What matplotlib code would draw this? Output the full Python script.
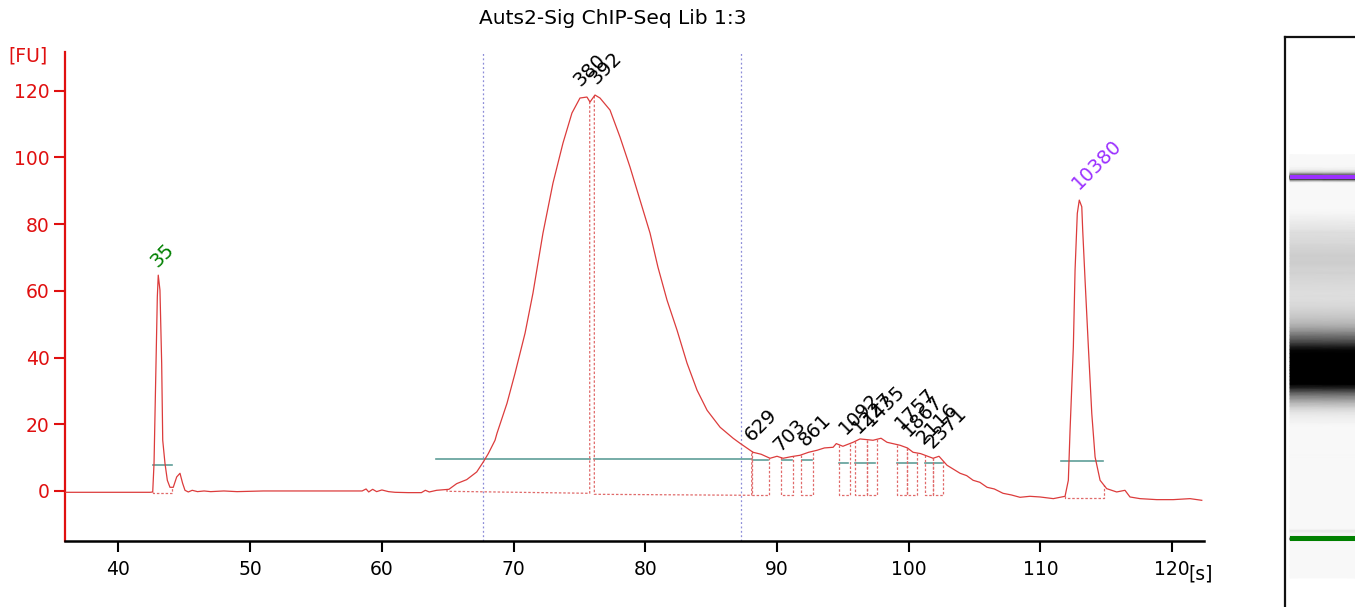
import numpy as np
import matplotlib
matplotlib.use("Agg")
import matplotlib.pyplot as plt
from matplotlib.colors import LinearSegmentedColormap

# electropherogram trace: time [s] and fluorescence [FU]
trace_t = [35.94, 38.0, 40.0, 42.40, 42.60, 42.70, 42.85, 42.95, 43.02, 43.15,
           43.28, 43.36, 43.53, 43.71, 43.91, 44.16, 44.42, 44.67, 44.87, 45.05,
           45.30, 45.6, 46.0, 46.5, 47.0, 48.0, 49.0, 51.0, 55.0, 58.5,
           58.8, 59.0, 59.3, 59.6, 60.0, 60.5, 61.0, 62.0, 63.0, 63.3,
           63.6, 64.16, 65.09, 65.68, 66.44, 67.20, 67.70, 68.08, 68.59, 68.74,
           69.50, 70.11, 70.87, 71.47, 72.23, 72.99, 73.75, 74.43, 75.04, 75.57,
           75.80, 76.18, 76.56, 77.32, 78.08, 78.84, 79.60, 80.36, 80.96, 81.65,
           82.41, 83.17, 83.93, 84.69, 85.68, 86.67, 87.19, 88.18, 88.8, 89.47,
           90.0, 90.46, 91.1, 91.75, 92.4, 93.04, 93.6, 94.26, 94.5, 95.0,
           95.78, 96.3, 97.29, 97.9, 98.35, 99.34, 99.9, 100.33, 100.9, 101.3,
           101.85, 102.3, 102.91, 103.4, 103.90, 104.4, 104.89, 105.4, 105.95, 106.5,
           107.16, 107.8, 108.45, 109.2, 109.97, 110.98, 111.87, 112.12, 112.25, 112.50,
           112.63, 112.80, 112.95, 113.14, 113.21, 113.39, 113.64, 113.90, 114.15, 114.53,
           115.03, 115.79, 116.42, 116.80, 117.56, 118.83, 120.09, 121.36, 122.25]
trace_fu = [-0.4, -0.4, -0.4, -0.4, -0.3, 8.3, 38.3, 58.2, 64.7, 60.2,
            38.3, 15.2, 8.3, 3.2, 1.1, 1.1, 4.2, 5.3, 2.3, 0.2,
            -0.3, 0.2, -0.2, 0.0, -0.2, 0.0, -0.2, 0.0, 0.0, 0.0,
            0.6, -0.3, 0.5, -0.2, 0.3, -0.2, -0.4, -0.5, -0.5, 0.2,
            -0.3, 0.2, 0.5, 2.2, 3.4, 5.7, 8.7, 11.2, 15.2, 17.3,
            26.3, 35.3, 47.3, 59.3, 77.3, 92.3, 104.3, 113.3, 117.8, 118.1,
            116.6, 118.7, 117.8, 114.2, 106.1, 97.1, 87.2, 77.3, 67.1, 57.2,
            48.2, 38.3, 30.2, 24.2, 19.1, 15.8, 14.3, 11.6, 11.0, 9.8,
            10.4, 9.8, 10.3, 10.7, 11.6, 12.2, 12.9, 13.1, 14.2, 13.4,
            14.6, 15.6, 15.2, 15.8, 14.6, 13.7, 12.9, 11.6, 11.2, 10.6,
            9.8, 10.4, 7.7, 6.5, 5.3, 4.6, 3.2, 2.6, 1.1, 0.6,
            -0.7, -1.2, -1.9, -1.6, -1.8, -2.3, -1.6, 3.2, 18.2, 43.2,
            66.2, 83.2, 87.2, 85.2, 78.2, 63.2, 43.2, 23.2, 10.2, 3.2,
            0.7, -0.3, 0.2, -1.8, -2.3, -2.6, -2.6, -2.3, -2.8]

# peak labels: size value, label anchor time and height
peak_labels = ["35", "380", "392", "629", "703", "861", "1092", "1227", "1435",
               "1757", "1867", "2116", "2371", "10380"]
peak_t = [43.0, 75.1, 76.3, 88.1, 90.25, 92.15, 95.2, 96.2, 97.1,
          99.5, 100.0, 101.15, 101.8, 112.9]
peak_fu = [66.8, 121.2, 121.7, 14.7, 11.7, 13.2, 16.7, 17.2, 19.2,
           18.2, 16.2, 13.7, 12.7, 90.2]

# integration boxes: start, end, baseline at start/end
box_start = [42.60, 64.94, 76.13, 88.08, 90.28, 91.80, 94.73, 95.92, 96.81,
             99.09, 99.89, 101.24, 101.87, 111.87]
box_end = [44.04, 75.78, 88.08, 89.42, 91.24, 92.76, 95.54, 96.81, 97.57,
           99.89, 100.65, 101.87, 102.58, 114.80]
box_base0 = [-0.7, -0.1, -1.0, -1.3, -1.3, -1.3, -1.3, -1.3, -1.3,
             -1.3, -1.3, -1.3, -1.3, -2.1]
box_base1 = [-0.7, -0.7, -1.3, -1.3, -1.3, -1.3, -1.3, -1.3, -1.3,
             -1.3, -1.3, -1.3, -1.3, -2.1]

# peak width bars
width_start = [42.60, 64.13, 76.13, 88.20, 90.36, 91.87, 94.73, 95.92, 99.13, 101.24, 111.54]
width_end = [44.07, 75.78, 88.08, 89.34, 91.12, 92.63, 95.41, 97.44, 100.61, 102.51, 114.73]
width_fu = [7.9, 9.7, 9.7, 9.2, 9.4, 9.2, 8.5, 8.5, 8.5, 8.5, 9.0]

# region markers
region_t = [67.64, 87.27]

RED = "#e01010"
TRACE = "#dc3c3c"
DOT = "#e06a6a"
TEAL = "#5f9e98"
PURPLE = "#9b30ff"
GREEN = "#008000"

plt.rcParams["font.family"] = ["DejaVu Sans"]

fig = plt.figure(figsize=(13.55, 6.07), dpi=100)
ax = fig.add_axes([65 / 1355, 66 / 607, 1139 / 1355, 489 / 607])

for t in region_t:
    ax.axvline(t, color="#8c8cd8", lw=0.9, ls=(0, (1.5, 2)), zorder=1)

for s, e, lv in zip(width_start, width_end, width_fu):
    ax.plot([s, e], [lv, lv], color=TEAL, lw=1.2, zorder=2)

for s, e, b0, b1 in zip(box_start, box_end, box_base0, box_base1):
    ys = np.interp(s, trace_t, trace_fu)
    ye = np.interp(e, trace_t, trace_fu)
    ax.plot([s, s, e, e], [ys, b0, b1, ye], color=DOT, lw=0.9,
            ls=(0, (2, 1.5)), zorder=2)

ax.plot(trace_t, trace_fu, color=TRACE, lw=0.9, zorder=3)

for lab, t, fu in zip(peak_labels, peak_t, peak_fu):
    col = GREEN if lab == "35" else (PURPLE if lab == "10380" else "black")
    ax.text(t, fu, lab, rotation=45, rotation_mode="anchor", ha="left",
            va="baseline", fontsize=14, color=col, zorder=4)

ax.set_xlim(35.94, 122.42)
ax.set_ylim(-15, 131.6)
ax.set_xticks([40, 50, 60, 70, 80, 90, 100, 110, 120])
ax.set_yticks([0, 20, 40, 60, 80, 100, 120])
for side in ["top", "right"]:
    ax.spines[side].set_visible(False)
ax.spines["left"].set_color(RED)
ax.spines["left"].set_linewidth(1.6)
ax.spines["bottom"].set_color("black")
ax.spines["bottom"].set_linewidth(1.8)
ax.tick_params(axis="y", colors=RED, length=8, width=1.5, labelsize=13.5, pad=3)
ax.tick_params(axis="x", colors="black", length=8, width=1.5, labelsize=13.5, pad=6)

fig.text(8 / 1355, 1 - 56 / 607, "[FU]", color=RED, fontsize=13.5,
         ha="left", va="center")
fig.text(1188 / 1355, 1 - 574 / 607, "[s]", color="black", fontsize=13.5,
         ha="left", va="center")
fig.text(613 / 1355, 1 - 18 / 607, "Auts2-Sig ChIP-Seq Lib 1:3", fontsize=14.5,
         ha="center", va="center")

# gel image on the right
gax = fig.add_axes([1285 / 1355, 0, 70 / 1355, 570 / 607])
gel_cmap = LinearSegmentedColormap.from_list("gel", ["#f8f8f8", "#000000"])
gt = np.array(trace_t)
gf = np.array(trace_fu)
keep = (gt >= 35.5) & (gt <= 117.3)
gt = np.concatenate([[35.5], gt[keep], [117.3]])
gf = np.concatenate([[0.0], gf[keep], [0.0]])
X = np.tile([5.0, 70.0], (len(gt), 1))
Y = np.column_stack([gt, gt])
C = np.column_stack([gf, gf])
gax.pcolormesh(X, Y, C, shading="gouraud", cmap=gel_cmap, vmin=0, vmax=90)
gax.fill_between([5, 70], 112.55, 113.5, color=PURPLE, lw=0)
gax.fill_between([5, 70], 42.55, 43.5, color=GREEN, lw=0)
gax.set_xlim(0, 70)
gax.set_ylim(29.85, 140.1)
gax.set_xticks([])
gax.set_yticks([])
for side in ["bottom", "right"]:
    gax.spines[side].set_visible(False)
for side in ["top", "left"]:
    gax.spines[side].set_linewidth(1.6)
    gax.spines[side].set_color("#111111")

fig.savefig("out.png", dpi=100)
